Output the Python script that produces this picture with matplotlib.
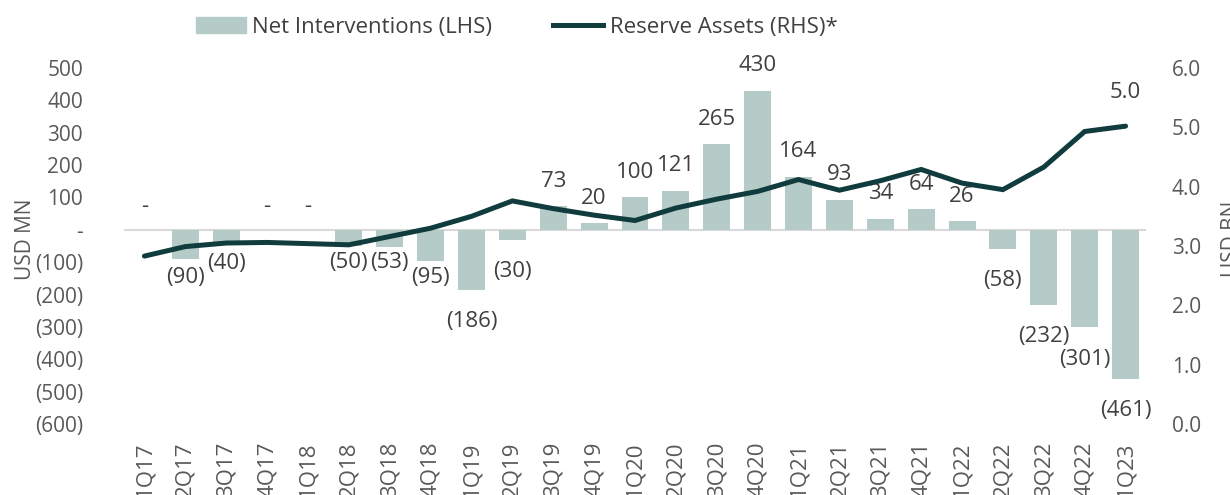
import matplotlib
matplotlib.use("Agg")
import matplotlib.pyplot as plt
from matplotlib.lines import Line2D
from matplotlib.patches import Patch

plt.rcParams["font.family"] = ["Open Sans", "DejaVu Sans"]

quarters = ["1Q17", "2Q17", "3Q17", "4Q17", "1Q18", "2Q18", "3Q18", "4Q18",
            "1Q19", "2Q19", "3Q19", "4Q19", "1Q20", "2Q20", "3Q20", "4Q20",
            "1Q21", "2Q21", "3Q21", "4Q21", "1Q22", "2Q22", "3Q22", "4Q22", "1Q23"]
net_interventions = [0, -90, -40, 0, 0, -50, -53, -95, -186, -30, 73, 20, 100,
                     121, 265, 430, 164, 93, 34, 64, 26, -58, -232, -301, -461]
reserve_assets = [2.83, 2.99, 3.05, 3.06, 3.04, 3.02, 3.16, 3.30, 3.50, 3.76,
                  3.63, 3.52, 3.43, 3.64, 3.79, 3.92, 4.12, 3.94, 4.10, 4.29,
                  4.06, 3.95, 4.33, 4.93, 5.02]
left_ticks = [500, 400, 300, 200, 100, 0, -100, -200, -300, -400, -500, -600]
right_ticks = [0.0, 1.0, 2.0, 3.0, 4.0, 5.0, 6.0]

BAR_C = "#b5cbc7"
LINE_C = "#103c3d"
TICK_C = "#595959"
LABEL_C = "#404040"
FS = 15


def acct(v):
    if v == 0:
        return "-"
    if v < 0:
        return f"({-v:,.0f})"
    return f"{v:,.0f}"


# label offsets (points) for the negative labels pushed up by Excel
neg_offset = {1: 13, 2: 15, 5: 12, 6: 11.5, 7: 12}

fig = plt.figure(figsize=(12.3, 4.95), dpi=100)
ax = fig.add_axes([124 / 1230, 1 - 424 / 495, 1022 / 1230, 356 / 495])
ax2 = ax.twinx()

x = list(range(len(quarters)))
ax.bar(x, net_interventions, width=0.66, color=BAR_C, zorder=2)
ax.axhline(0, color="#d9d9d9", lw=1.5, zorder=1)
ax.set_ylim(-600, 500)
ax.set_xlim(-0.5, len(quarters) - 0.5)
ax.set_yticks(left_ticks)
ax.set_yticklabels([acct(v) for v in left_ticks])
ax.set_xticks(x)
ax.set_xticklabels(quarters, rotation=90)
ax.tick_params(axis="y", length=0, pad=29.5, labelsize=FS, labelcolor=TICK_C)
ax.tick_params(axis="x", length=0, pad=12.5, labelsize=16, labelcolor=TICK_C)
for s in ax.spines.values():
    s.set_visible(False)
ax.set_ylabel("USD MN", fontsize=FS, color=TICK_C)
ax.yaxis.set_label_coords(-0.086, 0.52)

for i, v in enumerate(net_interventions):
    if v > 0:
        dy = 18
    elif v == 0:
        dy = 17
    else:
        dy = -neg_offset.get(i, 23)
    ax.annotate(acct(v), (i, v), xytext=(0, dy), textcoords="offset points",
                ha="center", va="center", fontsize=16, color=LABEL_C)

ax2.plot(x, reserve_assets, color=LINE_C, lw=3.6, solid_capstyle="round",
         solid_joinstyle="miter", zorder=3)
ax2.set_ylim(0, 6)
ax2.set_yticks(right_ticks)
ax2.set_yticklabels([f"{v:.1f}" for v in right_ticks])
ax2.tick_params(axis="y", length=0, pad=18.7, labelsize=FS, labelcolor=TICK_C)
for s in ax2.spines.values():
    s.set_visible(False)
ax2.set_ylabel("USD BN", fontsize=FS, color=TICK_C, rotation=90)
ax2.yaxis.set_label_coords(1.073, 0.52)
ax2.annotate(f"{reserve_assets[-1]:.1f}", (x[-1], reserve_assets[-1]),
             xytext=(0, 24), textcoords="offset points", ha="center",
             va="center", fontsize=16, color=LABEL_C)

handles = [Patch(color=BAR_C), Line2D([], [], color=LINE_C, lw=3.6)]
fig.legend(handles, ["Net Interventions (LHS)", "Reserve Assets (RHS)*"],
           loc="center", bbox_to_anchor=(0.42, 0.945), ncol=2, frameon=False,
           fontsize=16, handlelength=2.25, handletextpad=0.3, columnspacing=2.75,
           labelcolor=LABEL_C)

fig.savefig("out.png", dpi=100)
